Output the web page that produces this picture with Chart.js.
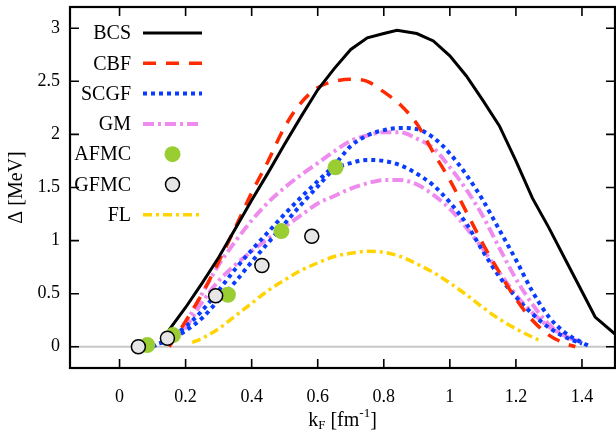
<!DOCTYPE html>
<html>
<head>
<meta charset="utf-8">
<script src="https://cdn.jsdelivr.net/npm/chart.js@4.4.0/dist/chart.umd.min.js"></script>
<style>
html,body{margin:0;padding:0;background:#fff;}
#wrap{width:616px;height:432px;position:relative;}
</style>
</head>
<body>
<div id="wrap"><canvas id="c" width="616" height="432"></canvas></div>
<script>
// ---- data (k_F in fm^-1, gap in MeV) ----
const xTickValues = [0, 0.2, 0.4, 0.6, 0.8, 1, 1.2, 1.4];
const yTickValues = [0, 0.5, 1, 1.5, 2, 2.5, 3];

const bcsK   = [0.15,0.2,0.25,0.3,0.35,0.4,0.45,0.5,0.55,0.6,0.65,0.7,0.75,0.8,0.84,0.9,0.95,1.0,1.05,1.1,1.15,1.2,1.25,1.3,1.35,1.4,1.44,1.5];
const bcsGap = [0.16,0.37,0.6,0.84,1.11,1.38,1.64,1.91,2.17,2.42,2.62,2.80,2.91,2.95,2.98,2.95,2.88,2.74,2.55,2.32,2.08,1.75,1.40,1.12,0.82,0.52,0.28,0.12];

const cbfK   = [0.15,0.2,0.25,0.3,0.35,0.4,0.45,0.5,0.55,0.6,0.65,0.7,0.75,0.8,0.85,0.9,0.95,1.0,1.05,1.1,1.15,1.2,1.25,1.3,1.35,1.38];
const cbfGap = [0.0,0.24,0.5,0.80,1.12,1.45,1.75,2.07,2.30,2.44,2.50,2.52,2.50,2.40,2.28,2.10,1.83,1.57,1.27,0.97,0.70,0.45,0.25,0.11,0.03,0.0];

const scgf1K   = [0.1,0.15,0.2,0.25,0.3,0.35,0.4,0.45,0.5,0.55,0.6,0.65,0.7,0.75,0.8,0.85,0.9,0.95,1.0,1.05,1.1,1.15,1.2,1.25,1.3,1.35,1.4,1.42];
const scgf1Gap = [0.0,0.08,0.19,0.34,0.53,0.73,0.91,1.08,1.25,1.41,1.56,1.71,1.89,1.99,2.04,2.06,2.05,1.97,1.82,1.62,1.38,1.10,0.82,0.52,0.28,0.13,0.04,0.01];

const scgf2K   = [0.12,0.15,0.2,0.25,0.3,0.35,0.4,0.45,0.5,0.55,0.6,0.65,0.7,0.75,0.8,0.85,0.9,0.95,1.0,1.05,1.1,1.15,1.2,1.25,1.3,1.35,1.4];
const scgf2Gap = [0.03,0.06,0.15,0.27,0.44,0.61,0.80,0.98,1.16,1.34,1.51,1.67,1.73,1.76,1.75,1.71,1.63,1.52,1.36,1.16,0.90,0.66,0.47,0.31,0.18,0.09,0.03];

const gm1K   = [0.15,0.2,0.25,0.3,0.35,0.4,0.45,0.5,0.55,0.6,0.65,0.7,0.75,0.8,0.85,0.9,0.95,1.0,1.05,1.1,1.15,1.2,1.25,1.3,1.35,1.4];
const gm1Gap = [0.02,0.22,0.50,0.77,0.99,1.19,1.36,1.50,1.62,1.73,1.84,1.94,1.99,2.02,2.02,1.96,1.87,1.69,1.48,1.23,0.93,0.64,0.40,0.21,0.10,0.04];

const gm2K   = [0.15,0.2,0.25,0.3,0.35,0.4,0.45,0.5,0.55,0.6,0.65,0.7,0.75,0.8,0.85,0.9,0.95,1.0,1.05,1.1,1.15,1.2,1.25,1.3,1.35,1.4];
const gm2Gap = [0.02,0.18,0.42,0.62,0.77,0.90,1.02,1.13,1.24,1.35,1.42,1.49,1.54,1.57,1.57,1.53,1.43,1.30,1.12,0.92,0.70,0.49,0.32,0.19,0.10,0.04];

const flK   = [0.22,0.25,0.3,0.35,0.4,0.45,0.5,0.55,0.6,0.65,0.7,0.75,0.8,0.85,0.9,0.95,1.0,1.05,1.1,1.15,1.2,1.25,1.28];
const flGap = [0.04,0.08,0.17,0.29,0.41,0.53,0.63,0.72,0.79,0.85,0.88,0.90,0.89,0.85,0.78,0.70,0.60,0.49,0.37,0.26,0.17,0.09,0.05];

const afmcK   = [0.084,0.162,0.328,0.49,0.654];
const afmcGap = [0.016,0.11,0.49,1.09,1.69];

const gfmcK   = [0.057,0.145,0.291,0.431,0.582];
const gfmcGap = [0.0,0.08,0.48,0.765,1.04];

const legendLabels = ['BCS','CBF','SCGF','GM','AFMC','GFMC','FL'];

// ---- helpers ----
const pts = (xs, ys) => xs.map((x, i) => ({x: x, y: ys[i]}));
const SERIF = "'Liberation Serif', 'DejaVu Serif', serif";

function lineDs(label, xs, ys, color, width, dash, extra) {
  return Object.assign({
    label: label, data: pts(xs, ys), borderColor: color, backgroundColor: color,
    borderWidth: width, borderDash: dash, pointRadius: 0, fill: false,
    cubicInterpolationMode: 'monotone', order: 2, borderCapStyle: 'butt'
  }, extra || {});
}

const datasets = [
  lineDs('BCS', bcsK, bcsGap, '#000000', 3, [], {cubicInterpolationMode: 'default', tension: 0}),
  lineDs('CBF', cbfK, cbfGap, '#ff2a00', 3.5, [13, 10]),
  lineDs('SCGF', scgf1K, scgf1Gap, '#0a3cff', 4, [4, 4]),
  lineDs('SCGF', scgf2K, scgf2Gap, '#0a3cff', 4, [4, 4]),
  lineDs('GM', gm1K, gm1Gap, '#ee8cee', 4, [11, 4, 3, 4]),
  lineDs('GM', gm2K, gm2Gap, '#ee8cee', 4, [11, 4, 3, 4]),
  lineDs('FL', flK, flGap, '#ffd400', 3.5, [9, 4, 3, 4]),
  {label: 'AFMC', type: 'scatter', data: pts(afmcK, afmcGap), showLine: false,
   pointRadius: 8, pointBackgroundColor: '#9acd32', pointBorderColor: '#9acd32', pointBorderWidth: 0, order: 1},
  {label: 'GFMC', type: 'scatter', data: pts(gfmcK, gfmcGap), showLine: false,
   pointRadius: 7, pointBackgroundColor: '#e6e6e6', pointBorderColor: '#000000', pointBorderWidth: 1.5, order: 0}
];

const decor = {
  id: 'decor',
  beforeDatasetsDraw(chart) {
    const ctx = chart.ctx, a = chart.chartArea, ys = chart.scales.y;
    const y0 = ys.getPixelForValue(0);
    ctx.save();
    ctx.strokeStyle = '#c8c8c8'; ctx.lineWidth = 2;
    ctx.beginPath(); ctx.moveTo(a.left, y0); ctx.lineTo(a.right, y0); ctx.stroke();
    ctx.restore();
  },
  afterDatasetsDraw(chart) {
    const ctx = chart.ctx, a = chart.chartArea, xs = chart.scales.x, ys = chart.scales.y;
    ctx.save();
    ctx.strokeStyle = '#000'; ctx.lineWidth = 1.6;
    const TL = 9;
    ctx.beginPath();
    xTickValues.forEach(v => {
      const p = xs.getPixelForValue(v);
      ctx.moveTo(p, a.bottom); ctx.lineTo(p, a.bottom - TL);
      ctx.moveTo(p, a.top); ctx.lineTo(p, a.top + TL);
    });
    yTickValues.forEach(v => {
      const p = ys.getPixelForValue(v);
      ctx.moveTo(a.left, p); ctx.lineTo(a.left + TL, p);
      ctx.moveTo(a.right, p); ctx.lineTo(a.right - TL, p);
    });
    ctx.stroke();
    ctx.lineWidth = 2.2;
    ctx.strokeRect(a.left, a.top, a.right - a.left, a.bottom - a.top);
    ctx.restore();
  },
  afterDraw(chart) {
    const ctx = chart.ctx;
    ctx.save();
    // legend
    const textRight = 131, lx0 = 143, lx1 = 202, top = 33, step = 30.3;
    ctx.font = '20px ' + SERIF;
    ctx.textAlign = 'right'; ctx.textBaseline = 'middle'; ctx.fillStyle = '#000';
    legendLabels.forEach((lab, i) => {
      const y = top + i * step;
      ctx.fillText(lab, textRight, y + 1);
      const ds = chart.data.datasets.find(d => d.label === lab);
      if (ds.type === 'scatter') {
        ctx.beginPath();
        ctx.arc((lx0 + lx1) / 2, y, ds.pointRadius, 0, Math.PI * 2);
        ctx.fillStyle = ds.pointBackgroundColor; ctx.fill();
        if (ds.pointBorderWidth) { ctx.lineWidth = ds.pointBorderWidth; ctx.strokeStyle = ds.pointBorderColor; ctx.stroke(); }
        ctx.fillStyle = '#000';
      } else {
        ctx.beginPath();
        ctx.setLineDash(ds.borderDash || []);
        ctx.lineWidth = ds.borderWidth; ctx.strokeStyle = ds.borderColor; ctx.lineCap = 'butt';
        ctx.moveTo(lx0, y); ctx.lineTo(lx1, y); ctx.stroke();
        ctx.setLineDash([]);
      }
    });
    // x-axis title with subscript / superscript
    const a = chart.chartArea;
    const cx = (a.left + a.right) / 2, cy = 421;
    const big = '20px ' + SERIF, small = '13px ' + SERIF;
    const parts = [['k', big, 0], ['F', small, 5], [' [fm', big, 0], ['-1', small, -7], [']', big, 0]];
    let w = 0;
    parts.forEach(p => { ctx.font = p[1]; w += ctx.measureText(p[0]).width; });
    let x = cx - w / 2;
    ctx.textAlign = 'left'; ctx.textBaseline = 'middle'; ctx.fillStyle = '#000';
    parts.forEach(p => { ctx.font = p[1]; ctx.fillText(p[0], x, cy + p[2]); x += ctx.measureText(p[0]).width; });
    ctx.restore();
  }
};

new Chart(document.getElementById('c'), {
  type: 'line',
  data: {datasets: datasets},
  options: {
    responsive: false,
    animation: false,
    layout: {autoPadding: false, padding: {left: 0, right: 1, top: 7, bottom: 0}},
    plugins: {legend: {display: false}, tooltip: {enabled: false}},
    scales: {
      x: {
        type: 'linear', min: -0.15, max: 1.5,
        grid: {display: false, drawTicks: false},
        border: {display: false},
        afterFit(s) { s.height = 64; s.paddingLeft = 0; s.paddingRight = 0; },
        afterBuildTicks(s) { s.ticks = xTickValues.map(v => ({value: v})); },
        ticks: {padding: 18, color: '#000', font: {family: SERIF, size: 18},
                callback: v => String(v)},
        title: {display: false}
      },
      y: {
        type: 'linear', min: -0.2, max: 3.2,
        grid: {display: false, drawTicks: false},
        border: {display: false},
        afterFit(s) { s.width = 70; s.paddingTop = 0; s.paddingBottom = 0; },
        afterBuildTicks(s) { s.ticks = yTickValues.map(v => ({value: v})); },
        ticks: {padding: 10, color: '#000', font: {family: SERIF, size: 18},
                callback: v => String(v)},
        title: {display: true, text: 'Δ [MeV]', color: '#000',
                font: {family: SERIF, size: 20}, padding: {top: 5, bottom: 0}}
      }
    }
  },
  plugins: [decor]
});
</script>
</body>
</html>
